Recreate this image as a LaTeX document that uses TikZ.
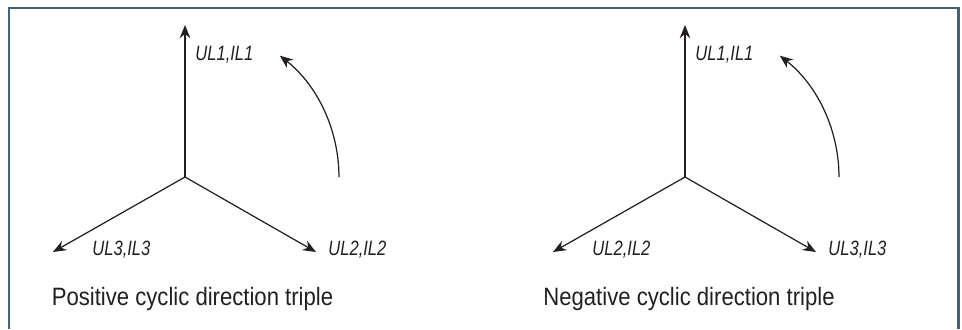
\documentclass[tikz,border=0pt]{standalone}
\usepackage{fontspec}
\setmainfont[FakeStretch=0.88]{Liberation Sans}
\newfontfamily\narrowfont[FakeStretch=0.8]{Liberation Sans}
\usepackage{tikz}
\usetikzlibrary{arrows.meta}
\usepackage{xcolor}
\definecolor{framegray}{RGB}{72,98,114}
\definecolor{inkgray}{RGB}{35,31,32}

\begin{document}
\begin{tikzpicture}[x=0.02cm,y=-0.02cm,
    phasor/.style={inkgray,line width=0.7pt,-{Stealth[length=7.5pt,width=6pt]}},
    lbl/.style={anchor=base west,inner sep=0pt,inkgray,font=\narrowfont\fontsize{11.8}{13}\selectfont\itshape},
    caption/.style={anchor=base,inner sep=0pt,inkgray,font=\fontsize{14.3}{16}\selectfont}]
    \useasboundingbox (0,0) rectangle (962,329);
    % open frame, cut off at the bottom
    \draw[framegray,line width=1.7pt] (9,329) -- (9,8) -- (958,8) -- (958,329);
    \foreach \dx/\sense/\rgt/\lft/\cx in {0/Positive/2/3/192.5, 500/Negative/3/2/189} {
        \begin{scope}[shift={(\dx,0)}]
            \coordinate (o) at (185,177);
            \coordinate (p1) at (185,25);
            \coordinate (pr) at (316,252);
            \coordinate (pl) at (53,252);
            \draw[phasor] (o) -- (p1);
            \draw[phasor] (o) -- (pr);
            \draw[phasor] (o) -- (pl);
            \node[lbl] (l1) at (195,60) {UL1,IL1};
            \node[lbl] (lr) at (328,255) {UL\rgt,IL\rgt};
            \node[lbl] (ll) at (92,255) {UL\lft,IL\lft};
            % sense of rotation
            \draw[phasor] ([xshift=3.08cm]o) arc[start angle=0,end angle=52,radius=3.08cm];
            \node[caption] (cap) at (\cx,305) {\sense\ cyclic direction triple};
        \end{scope}
    }
\end{tikzpicture}
\end{document}
